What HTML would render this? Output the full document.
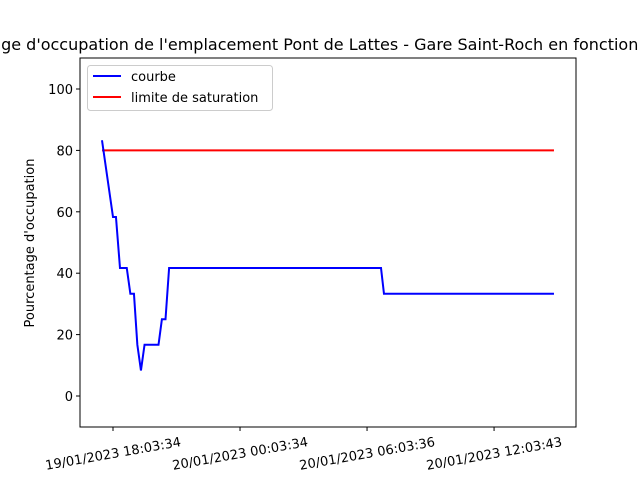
<!DOCTYPE html>
<html><head><meta charset="utf-8"><style>
body{margin:0;background:#fff;}
svg text{font-family:"DejaVu Sans","Liberation Sans",sans-serif;fill:#000;}
</style></head><body>
<svg id="chart" width="640" height="480" xmlns="http://www.w3.org/2000/svg">
<text x="320" y="50" font-size="16" text-anchor="middle">Pourcentage d'occupation de l'emplacement Pont de Lattes - Gare Saint-Roch en fonction du temps</text>
<g id="plot"></g>
<text transform="translate(34,243) rotate(-90)" font-size="13" text-anchor="middle">Pourcentage d'occupation</text>
</svg>
<script>
// hours since 19/01/2023 18:03:34
const hours = [-0.52, 0.0, 0.14, 0.33, 0.65, 0.82, 0.99, 1.15, 1.32, 1.49, 2.15, 2.31, 2.48, 2.65, 12.66, 12.8, 20.83];
const values = [83.3, 58.3, 58.3, 41.7, 41.7, 33.3, 33.3, 16.7, 8.3, 16.7, 16.7, 25, 25, 41.7, 41.7, 33.3, 33.3];
const saturation = 80;
const yTicks = [0, 20, 40, 60, 80, 100];
const xTickHours = [0, 6, 12, 18];
const xTickLabels = ["19/01/2023 18:03:34", "20/01/2023 00:03:34", "20/01/2023 06:03:36", "20/01/2023 12:03:43"];
const legendLabels = ["courbe", "limite de saturation"];

const L=80,R=576,T=58,B=427;
const xs=h=>113+h*21.17;
const ys=v=>396-v*3.07;
const NS="http://www.w3.org/2000/svg";
const g=document.getElementById('plot');
function mk(t,a){const e=document.createElementNS(NS,t);for(const k in a)e.setAttribute(k,a[k]);g.appendChild(e);return e;}

yTicks.forEach(v=>{
  const tk=mk('line',{x1:L-4,x2:L,y1:ys(v),y2:ys(v),stroke:'#000','stroke-width':1});
  
  
  const t=mk('text',{x:L-7,y:ys(v)+5,'font-size':13,'text-anchor':'end'});
  t.textContent=v;
  
  
});
xTickHours.forEach((h,i)=>{
  const x=xs(h);
  const tk=mk('line',{x1:x,x2:x,y1:B,y2:B+4,stroke:'#000','stroke-width':1});
  
  
  const cy=B+26;
  const t=mk('text',{x:x,y:cy+5,'font-size':13,'text-anchor':'middle',transform:`rotate(-10 ${x} ${cy})`});
  t.textContent=xTickLabels[i];
  
  
});
const red=mk('line',{x1:xs(hours[0]),x2:xs(hours[hours.length-1]),y1:ys(saturation),y2:ys(saturation),stroke:'#ff0000','stroke-width':2});


const pl=mk('polyline',{points:hours.map((h,i)=>xs(h)+','+ys(values[i])).join(' '),fill:'none',stroke:'#0000ff','stroke-width':2});


const fr=mk('rect',{x:L,y:T,width:R-L,height:B-T,fill:'none',stroke:'#000','stroke-width':1});


const lb=mk('rect',{x:87.5,y:65.5,width:185,height:45,rx:3,fill:'#fff',stroke:'#ccc','stroke-width':1});


['#0000ff','#ff0000'].forEach((c,i)=>{
  const y=76+i*21;
  const ln=mk('line',{x1:93,x2:121,y1:y,y2:y,stroke:c,'stroke-width':2});
  
  
  const t=mk('text',{x:131,y:y+5,'font-size':13});
  t.textContent=legendLabels[i];
  
  
});
</script>
</body></html>
